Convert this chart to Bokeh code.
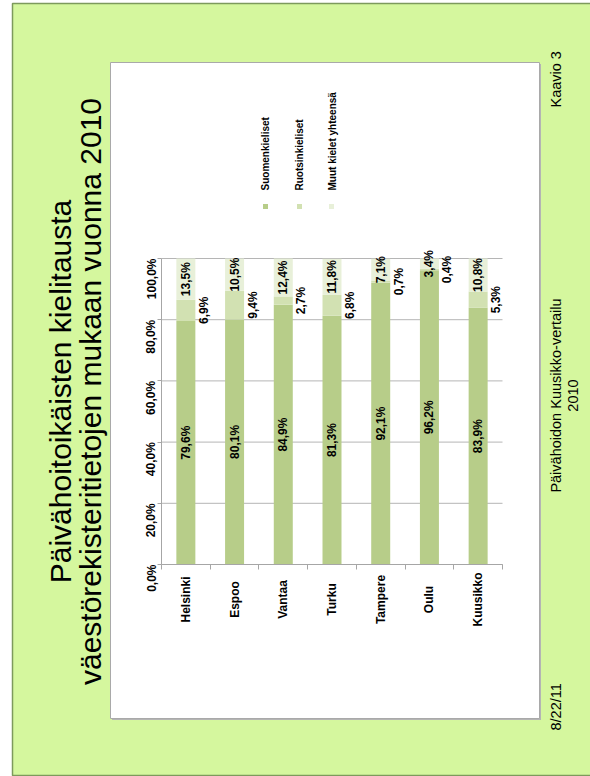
import math
from bokeh.plotting import figure
from bokeh.models import (ColumnDataSource, FixedTicker, CustomJSTickFormatter,
                          LinearAxis, Range1d)
from bokeh.core.properties import value
from bokeh.embed import file_html
from bokeh.resources import INLINE

# ---------------- data ----------------
cities = ["Helsinki", "Espoo", "Vantaa", "Turku", "Tampere", "Oulu", "Kuusikko"]
suomi = [79.6, 80.1, 84.9, 81.3, 92.1, 96.2, 83.9]
ruotsi = [6.9, 9.4, 2.7, 6.8, 0.7, 0.4, 5.3]
muut = [13.5, 10.5, 12.4, 11.8, 7.1, 3.4, 10.8]
series_names = ["Suomenkieliset", "Ruotsinkieliset", "Muut kielet yhteensä"]
y_ticks = [0, 20, 40, 60, 80, 100]
title_lines = ["Päivähoitoikäisten kielitausta",
               "väestörekisteritietojen mukaan vuonna 2010"]
footer_center = ["Päivähoidon Kuusikko-vertailu", "2010"]
footer_top = "Kaavio 3"
footer_bottom = "8/22/11"

colors = ["#b7cd89", "#d2e1b2", "#e8f0d9"]
FONT = value("Liberation Sans")
ROT = math.pi / 2


def fmt(v):
    return f"{v:.1f}".replace(".", ",") + "%"


# ---------------- page geometry (pixels) ----------------
W, H = 590, 776
PL, PR, PT, PB = 161, 502, 258, 564      # chart plot area
ncat = len(cities)
ux = (PR - PL) / ncat
uy = (PB - PT) / 100.0

p = figure(width=W, height=H, output_backend="svg", toolbar_location=None,
           x_range=Range1d(0, W), y_range=Range1d(H, 0),
           x_axis_type=None, y_axis_type=None,
           min_border=0, min_border_left=0, min_border_right=0,
           min_border_top=0, min_border_bottom=0)
p.background_fill_color = "white"
p.border_fill_color = "white"
p.outline_line_color = None
p.xgrid.visible = False
p.ygrid.visible = False

p.extra_x_ranges = {"cx": Range1d(-PL / ux, ncat + (W - PR) / ux)}
p.extra_y_ranges = {"cy": Range1d(-(H - PB) / uy, 100 + PT / uy)}

# slide background and white panel
p.quad(left=12, right=W + 20, top=3, bottom=775, fill_color="#d5f79e",
       line_color="#7d9a5c", line_width=1.5)
p.quad(left=111.5, right=540.5, top=63.5, bottom=719.5, fill_color="#b4b4b4",
       line_color=None)
p.quad(left=110, right=539, top=62, bottom=718, fill_color="white",
       line_color="#a9a9a9", line_width=1)

CH = dict(x_range_name="cx", y_range_name="cy")

# gridlines
p.segment(x0=[0] * len(y_ticks), x1=[ncat] * len(y_ticks), y0=y_ticks, y1=y_ticks,
          line_color="#b5b5b5", line_width=1, **CH)

xs = [i + 0.5 for i in range(ncat)]
src = ColumnDataSource(dict(
    x=xs, city=cities, suomi=suomi, ruotsi=ruotsi, muut=muut,
    y_fi=[s / 2 for s in suomi],
    y_sv=[s + r / 2 for s, r in zip(suomi, ruotsi)],
    y_mu=[s + r + m / 2 for s, r, m in zip(suomi, ruotsi, muut)],
    t_fi=[fmt(v) for v in suomi],
    t_sv=[fmt(v) for v in ruotsi],
    t_mu=[fmt(v) for v in muut],
))

# bars
p.vbar_stack(["suomi", "ruotsi", "muut"], x="x", width=0.39, source=src,
             color=colors, line_color=None, **CH)

# y axis
ya = LinearAxis(fixed_location=0, bounds=(0, 100), **CH)
ya.ticker = FixedTicker(ticks=y_ticks)
ya.formatter = CustomJSTickFormatter(code="return tick.toFixed(1).replace('.', ',') + '%';")
ya.major_label_orientation = ROT
ya.major_label_text_font = "Liberation Sans"
ya.major_label_text_font_style = "bold"
ya.major_label_text_font_size = "12px"
ya.major_label_text_color = "black"
ya.major_label_standoff = 6
ya.axis_line_color = "#a6a6a6"
ya.major_tick_line_color = "#a6a6a6"
ya.major_tick_out = 4
ya.major_tick_in = 0
ya.minor_tick_line_color = None
p.add_layout(ya, "left")

# x axis (boundary ticks)
xa = LinearAxis(fixed_location=0, bounds=(0, ncat), **CH)
xa.ticker = FixedTicker(ticks=xs, minor_ticks=list(range(ncat + 1)))
xa.formatter = CustomJSTickFormatter(code="return '';")
xa.axis_line_color = "#a6a6a6"
xa.major_tick_line_color = None
xa.minor_tick_line_color = "#a6a6a6"
xa.minor_tick_out = 5
xa.minor_tick_in = 0
p.add_layout(xa, "below")

txt = dict(angle=ROT, text_font=FONT, text_font_style="bold",
           text_font_size="12px", text_color="black")

# category labels (x in chart units, y in page pixels)
p.text(x="x", y=599, text="city", source=src, x_range_name="cx",
       text_align="center", text_baseline="middle", **txt)
# value labels
p.text(x="x", y="y_fi", text="t_fi", source=src, text_align="center",
       text_baseline="middle", **txt, **CH)
p.text(x="x", y="y_sv", text="t_sv", source=src, x_offset=18, text_align="center",
       text_baseline="middle", **txt, **CH)
p.text(x="x", y="y_mu", text="t_mu", source=src, text_align="center",
       text_baseline="middle", **txt, **CH)

# legend (rotated)
leg_cx = [265, 299, 331]
leg_tx = [264.5, 299, 332]
p.rect(x=leg_cx, y=[206] * 3, width=5, height=5, fill_color=colors, line_color=None)
p.text(x=leg_tx, y=[190] * 3, text=series_names, angle=ROT, text_align="left",
       text_baseline="middle", text_font=FONT, text_font_style="bold",
       text_font_size="10px", text_color="black")

# title
p.text(x=[60, 90], y=[391, 391], text=title_lines, angle=ROT, text_align="center",
       text_baseline="middle", text_font=FONT, text_font_size="30px",
       text_color="black")

# footers
p.text(x=[555, 572], y=[395, 395], text=footer_center, angle=ROT, text_align="center",
       text_baseline="middle", text_font=FONT, text_font_size="14.5px",
       text_color="black")
p.text(x=[555, 555.5], y=[107, 730], text=[footer_top, footer_bottom], angle=ROT,
       text_align="left", text_baseline="middle", text_font=FONT,
       text_font_size="14.5px", text_color="black")

open("out.html", "w").write(file_html(p, INLINE))
